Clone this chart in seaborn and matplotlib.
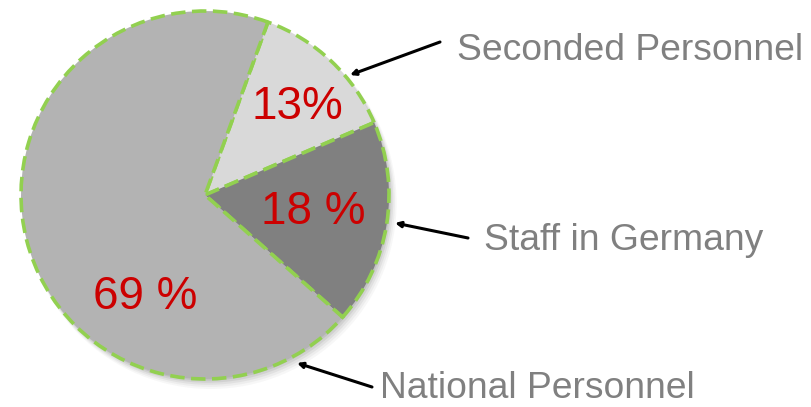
import matplotlib
matplotlib.use("Agg")
import matplotlib.pyplot as plt
import seaborn as sns
from matplotlib.patches import Circle

categories = ["Seconded Personnel", "Staff in Germany", "National Personnel"]
values = [13, 18, 69]
pct_labels = ["13%", "18 %", "69 %"]

sns.set_theme(style="white")
plt.rcParams['font.family'] = ['Liberation Sans', 'DejaVu Sans']

W, H = 812, 407
fig = plt.figure(figsize=(W / 100, H / 100), dpi=100)
ax = fig.add_axes([0, 0, 1, 1])

def Y(yp):
    return H - yp

cx, cy, r = 205, Y(195), 184

# soft shadow
for i, a in enumerate([0.04, 0.05, 0.07, 0.09, 0.11]):
    off = 8 - i * 1.5
    ax.add_patch(Circle((cx + off * 0.7, cy - off), r + 2 - i * 0.6,
                        color='#404040', alpha=a, lw=0, zorder=1))

colors = ['#d9d9d9', '#808080', '#b3b3b3']
wedges, _ = ax.pie(values, colors=colors, startangle=70, counterclock=False,
                   center=(cx, cy), radius=r, frame=True,
                   wedgeprops=dict(edgecolor='#92d050', linewidth=2.6,
                                   linestyle=(0, (4, 1.8))))
for w in wedges:
    w.set_zorder(2)
ax.set_xlim(0, W)
ax.set_ylim(0, H)
ax.set_aspect('equal')
ax.axis('off')

pct_pos = [(297, 107), (313, 212), (145, 297)]
for (x, y), t in zip(pct_pos, pct_labels):
    ax.text(x, Y(y), t, color='#cc0000', fontsize=33, ha='center',
            va='center', zorder=3)

label_pos = [(457, 50), (484, 241), (380, 388)]
arrows = [((440, 42), (350, 75)), ((468, 238), (395, 223)),
          ((372, 387), (297, 363))]
for (x, y), t, (s, e) in zip(label_pos, categories, arrows):
    ax.text(x, Y(y), t, color='#808080', fontsize=26.8, ha='left',
            va='center', zorder=3)
    ax.annotate('', xy=(e[0], Y(e[1])), xytext=(s[0], Y(s[1])),
                arrowprops=dict(arrowstyle='-|>', color='black', lw=2.2,
                                mutation_scale=8, shrinkA=0, shrinkB=0),
                zorder=4)

fig.savefig("out.png", dpi=100)
